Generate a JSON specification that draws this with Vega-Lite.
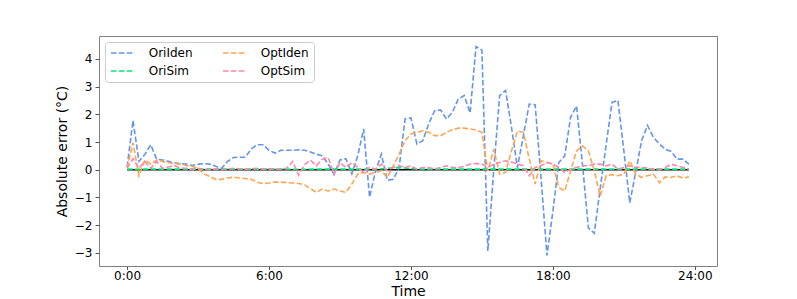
{
  "$schema": "https://vega.github.io/schema/vega-lite/v6.json",
  "width": 618,
  "height": 230,
  "autosize": "none",
  "padding": {"left": 99, "top": 36, "right": 80, "bottom": 33},
  "background": "white",
  "config": {
    "font": "DejaVu Sans",
    "view": {"stroke": "#808080", "strokeWidth": 1},
    "axis": {
      "grid": false,
      "domain": false,
      "tickColor": "#555",
      "tickSize": 4,
      "labelPadding": 3,
      "labelFontSize": 12,
      "labelColor": "#000",
      "titleFontSize": 14,
      "titleFontWeight": "normal",
      "titleColor": "#000"
    },
    "legend": {
      "labelFontSize": 12,
      "labelColor": "#000"
    }
  },
  "layer": [
    {
      "data": {"values": [{"x0": 0, "x1": 23.75, "y": 0}]},
      "mark": {"type": "rule", "color": "#000000", "strokeWidth": 1.6},
      "encoding": {
        "x": {"field": "x0", "type": "quantitative", "scale": {"domain": [-1.1875, 24.9375], "nice": false, "zero": false}, "axis": {"values": [0, 6, 12, 18, 24], "labelExpr": "datum.value + ':00'", "title": "Time", "titlePadding": 3, "labelPadding": 1, "tickSize": 3.5}},
        "x2": {"field": "x1"},
        "y": {"field": "y", "type": "quantitative", "scale": {"domain": [-3.48, 4.83], "nice": false, "zero": false}, "axis": {"values": [-3, -2, -1, 0, 1, 2, 3, 4], "title": "Absolute error (°C)", "titlePadding": 5}}
      }
    },
    {
      "data": {"values": [
        {"t": 0, "OriIden": 0.1, "OriSim": 0.02, "OptIden": 0.05, "OptSim": 0.05},
        {"t": 0.25, "OriIden": 1.78, "OriSim": 0.02, "OptIden": 0.98, "OptSim": 0.4},
        {"t": 0.5, "OriIden": 0.3, "OriSim": 0.01, "OptIden": -0.22, "OptSim": 0.05},
        {"t": 0.75, "OriIden": 0.55, "OriSim": 0.02, "OptIden": 0.35, "OptSim": 0.3},
        {"t": 1, "OriIden": 0.9, "OriSim": 0.02, "OptIden": 0.2, "OptSim": 0.05},
        {"t": 1.25, "OriIden": 0.38, "OriSim": 0.02, "OptIden": 0.35, "OptSim": 0.3},
        {"t": 1.5, "OriIden": 0.35, "OriSim": 0.02, "OptIden": 0.3, "OptSim": 0.05},
        {"t": 1.75, "OriIden": 0.3, "OriSim": 0.02, "OptIden": 0.25, "OptSim": 0.1},
        {"t": 2, "OriIden": 0.25, "OriSim": 0.02, "OptIden": 0.22, "OptSim": 0.15},
        {"t": 2.25, "OriIden": 0.22, "OriSim": 0.02, "OptIden": 0.2, "OptSim": 0.05},
        {"t": 2.5, "OriIden": 0.2, "OriSim": 0.02, "OptIden": 0.15, "OptSim": 0.05},
        {"t": 2.75, "OriIden": 0.15, "OriSim": 0.02, "OptIden": 0.12, "OptSim": 0.0},
        {"t": 3, "OriIden": 0.2, "OriSim": 0.02, "OptIden": 0.05, "OptSim": 0.05},
        {"t": 3.25, "OriIden": 0.22, "OriSim": 0.02, "OptIden": -0.15, "OptSim": 0.02},
        {"t": 3.5, "OriIden": 0.2, "OriSim": 0.02, "OptIden": -0.25, "OptSim": 0.0},
        {"t": 3.75, "OriIden": 0.12, "OriSim": 0.02, "OptIden": -0.35, "OptSim": 0.03},
        {"t": 4, "OriIden": 0.05, "OriSim": 0.02, "OptIden": -0.35, "OptSim": 0.0},
        {"t": 4.25, "OriIden": 0.3, "OriSim": 0.02, "OptIden": -0.3, "OptSim": 0.02},
        {"t": 4.5, "OriIden": 0.44, "OriSim": 0.02, "OptIden": -0.27, "OptSim": 0.05},
        {"t": 4.75, "OriIden": 0.45, "OriSim": 0.02, "OptIden": -0.3, "OptSim": 0.03},
        {"t": 5, "OriIden": 0.45, "OriSim": 0.02, "OptIden": -0.32, "OptSim": 0.02},
        {"t": 5.25, "OriIden": 0.75, "OriSim": 0.02, "OptIden": -0.35, "OptSim": 0.03},
        {"t": 5.5, "OriIden": 0.9, "OriSim": 0.02, "OptIden": -0.45, "OptSim": 0.05},
        {"t": 5.75, "OriIden": 0.9, "OriSim": 0.02, "OptIden": -0.5, "OptSim": 0.02},
        {"t": 6, "OriIden": 0.7, "OriSim": 0.02, "OptIden": -0.48, "OptSim": 0.03},
        {"t": 6.25, "OriIden": 0.6, "OriSim": 0.02, "OptIden": -0.45, "OptSim": 0.02},
        {"t": 6.5, "OriIden": 0.7, "OriSim": 0.02, "OptIden": -0.45, "OptSim": 0.03},
        {"t": 6.75, "OriIden": 0.7, "OriSim": 0.02, "OptIden": -0.47, "OptSim": 0.05},
        {"t": 7, "OriIden": 0.7, "OriSim": 0.01, "OptIden": -0.48, "OptSim": 0.3},
        {"t": 7.25, "OriIden": 0.72, "OriSim": 0.01, "OptIden": -0.5, "OptSim": -0.2},
        {"t": 7.5, "OriIden": 0.7, "OriSim": 0.01, "OptIden": -0.55, "OptSim": 0.18},
        {"t": 7.75, "OriIden": 0.64, "OriSim": 0.02, "OptIden": -0.68, "OptSim": 0.35},
        {"t": 8, "OriIden": 0.56, "OriSim": 0.02, "OptIden": -0.82, "OptSim": 0.14},
        {"t": 8.25, "OriIden": 0.5, "OriSim": 0.02, "OptIden": -0.7, "OptSim": 0.38},
        {"t": 8.5, "OriIden": 0.2, "OriSim": 0.02, "OptIden": -0.77, "OptSim": 0.44},
        {"t": 8.75, "OriIden": -0.17, "OriSim": 0.02, "OptIden": -0.7, "OptSim": -0.16},
        {"t": 9, "OriIden": 0.35, "OriSim": 0.02, "OptIden": -0.77, "OptSim": 0.26},
        {"t": 9.25, "OriIden": 0.4, "OriSim": 0.02, "OptIden": -0.82, "OptSim": 0.08},
        {"t": 9.5, "OriIden": -0.15, "OriSim": 0.02, "OptIden": -0.52, "OptSim": 0.26},
        {"t": 9.75, "OriIden": 0.5, "OriSim": 0.02, "OptIden": -0.16, "OptSim": 0.08},
        {"t": 10, "OriIden": 1.47, "OriSim": 0.02, "OptIden": -0.1, "OptSim": -0.1},
        {"t": 10.25, "OriIden": -1.0, "OriSim": 0.02, "OptIden": -0.16, "OptSim": 0.08},
        {"t": 10.5, "OriIden": -0.05, "OriSim": 0.02, "OptIden": -0.1, "OptSim": 0.02},
        {"t": 10.75, "OriIden": 0.56, "OriSim": 0.03, "OptIden": -0.04, "OptSim": 0.2},
        {"t": 11, "OriIden": -0.38, "OriSim": 0.05, "OptIden": -0.28, "OptSim": -0.04},
        {"t": 11.25, "OriIden": -0.35, "OriSim": 0.07, "OptIden": 0.14, "OptSim": 0.08},
        {"t": 11.5, "OriIden": 0.08, "OriSim": 0.08, "OptIden": 0.56, "OptSim": 0.14},
        {"t": 11.75, "OriIden": 1.83, "OriSim": 0.06, "OptIden": 1.05, "OptSim": 0.08},
        {"t": 12, "OriIden": 1.87, "OriSim": 0.04, "OptIden": 1.29, "OptSim": 0.14},
        {"t": 12.25, "OriIden": 0.93, "OriSim": 0.03, "OptIden": 1.35, "OptSim": 0.02},
        {"t": 12.5, "OriIden": 1.05, "OriSim": 0.02, "OptIden": 1.4, "OptSim": 0.08},
        {"t": 12.75, "OriIden": 1.65, "OriSim": 0.02, "OptIden": 1.35, "OptSim": 0.08},
        {"t": 13, "OriIden": 2.13, "OriSim": 0.02, "OptIden": 1.23, "OptSim": 0.03},
        {"t": 13.25, "OriIden": 2.16, "OriSim": 0.02, "OptIden": 1.23, "OptSim": 0.08},
        {"t": 13.5, "OriIden": 1.83, "OriSim": 0.02, "OptIden": 1.35, "OptSim": 0.14},
        {"t": 13.75, "OriIden": 2.07, "OriSim": 0.02, "OptIden": 1.44, "OptSim": 0.08},
        {"t": 14, "OriIden": 2.55, "OriSim": 0.02, "OptIden": 1.5, "OptSim": 0.08},
        {"t": 14.25, "OriIden": 2.68, "OriSim": 0.02, "OptIden": 1.5, "OptSim": 0.12},
        {"t": 14.5, "OriIden": 2.05, "OriSim": 0.02, "OptIden": 1.47, "OptSim": 0.2},
        {"t": 14.75, "OriIden": 4.45, "OriSim": 0.02, "OptIden": 1.43, "OptSim": 0.22},
        {"t": 15, "OriIden": 4.32, "OriSim": 0.02, "OptIden": 1.35, "OptSim": 0.2},
        {"t": 15.25, "OriIden": -2.94, "OriSim": 0.02, "OptIden": -0.05, "OptSim": 0.08},
        {"t": 15.5, "OriIden": 0.0, "OriSim": 0.02, "OptIden": 0.74, "OptSim": 0.2},
        {"t": 15.75, "OriIden": 2.68, "OriSim": 0.02, "OptIden": -0.16, "OptSim": 0.26},
        {"t": 16, "OriIden": 2.86, "OriSim": 0.02, "OptIden": -0.1, "OptSim": 0.32},
        {"t": 16.25, "OriIden": 1.53, "OriSim": 0.02, "OptIden": 0.68, "OptSim": 0.28},
        {"t": 16.5, "OriIden": 0.07, "OriSim": 0.02, "OptIden": 1.4, "OptSim": 0.2},
        {"t": 16.75, "OriIden": 1.22, "OriSim": 0.02, "OptIden": 1.35, "OptSim": 0.14},
        {"t": 17, "OriIden": 2.37, "OriSim": 0.02, "OptIden": 0.4, "OptSim": -0.22},
        {"t": 17.25, "OriIden": 2.35, "OriSim": 0.02, "OptIden": -0.52, "OptSim": 0.08},
        {"t": 17.5, "OriIden": -0.3, "OriSim": 0.02, "OptIden": 0.32, "OptSim": 0.14},
        {"t": 17.75, "OriIden": -3.1, "OriSim": 0.02, "OptIden": 0.26, "OptSim": 0.26},
        {"t": 18, "OriIden": -1.5, "OriSim": 0.02, "OptIden": 0.2, "OptSim": 0.2},
        {"t": 18.25, "OriIden": 0.26, "OriSim": 0.02, "OptIden": -0.64, "OptSim": 0.08},
        {"t": 18.5, "OriIden": 0.5, "OriSim": 0.02, "OptIden": -0.77, "OptSim": -0.1},
        {"t": 18.75, "OriIden": 1.9, "OriSim": 0.02, "OptIden": -0.04, "OptSim": 0.02},
        {"t": 19, "OriIden": 2.3, "OriSim": 0.02, "OptIden": 0.68, "OptSim": 0.08},
        {"t": 19.25, "OriIden": 0.2, "OriSim": 0.02, "OptIden": 0.86, "OptSim": 0.14},
        {"t": 19.5, "OriIden": -2.1, "OriSim": 0.02, "OptIden": 0.68, "OptSim": 0.14},
        {"t": 19.75, "OriIden": -2.3, "OriSim": 0.02, "OptIden": -0.04, "OptSim": 0.2},
        {"t": 20, "OriIden": -0.67, "OriSim": 0.02, "OptIden": -0.95, "OptSim": 0.2},
        {"t": 20.25, "OriIden": 0.89, "OriSim": 0.02, "OptIden": -0.22, "OptSim": 0.14},
        {"t": 20.5, "OriIden": 2.43, "OriSim": 0.02, "OptIden": -0.18, "OptSim": 0.2},
        {"t": 20.75, "OriIden": 2.5, "OriSim": 0.02, "OptIden": -0.22, "OptSim": 0.02},
        {"t": 21, "OriIden": 0.68, "OriSim": 0.02, "OptIden": -0.16, "OptSim": 0.08},
        {"t": 21.25, "OriIden": -1.2, "OriSim": 0.02, "OptIden": 0.32, "OptSim": 0.14},
        {"t": 21.5, "OriIden": -0.1, "OriSim": 0.02, "OptIden": -0.16, "OptSim": 0.08},
        {"t": 21.75, "OriIden": 1.05, "OriSim": 0.02, "OptIden": -0.28, "OptSim": 0.08},
        {"t": 22, "OriIden": 1.6, "OriSim": 0.02, "OptIden": -0.22, "OptSim": 0.06},
        {"t": 22.25, "OriIden": 1.17, "OriSim": 0.02, "OptIden": -0.16, "OptSim": 0.02},
        {"t": 22.5, "OriIden": 0.93, "OriSim": 0.02, "OptIden": -0.47, "OptSim": 0.0},
        {"t": 22.75, "OriIden": 0.74, "OriSim": 0.02, "OptIden": -0.26, "OptSim": 0.08},
        {"t": 23, "OriIden": 0.66, "OriSim": 0.02, "OptIden": -0.28, "OptSim": 0.2},
        {"t": 23.25, "OriIden": 0.38, "OriSim": 0.02, "OptIden": -0.22, "OptSim": 0.14},
        {"t": 23.5, "OriIden": 0.38, "OriSim": 0.02, "OptIden": -0.31, "OptSim": 0.08},
        {"t": 23.75, "OriIden": 0.2, "OriSim": 0.02, "OptIden": -0.26, "OptSim": 0.02}
      ]},
      "transform": [{"fold": ["OriIden", "OriSim", "OptIden", "OptSim"], "as": ["series", "value"]}],
      "mark": {"type": "line", "strokeDash": [5.5, 2.4], "strokeWidth": 1.6},
      "encoding": {
        "x": {"field": "t", "type": "quantitative", "scale": {"domain": [-1.1875, 24.9375], "nice": false, "zero": false}, "axis": {"values": [0, 6, 12, 18, 24], "labelExpr": "datum.value + ':00'", "title": "Time", "titlePadding": 3, "labelPadding": 1, "tickSize": 3.5}},
        "y": {"field": "value", "type": "quantitative", "scale": {"domain": [-3.48, 4.83], "nice": false, "zero": false}, "axis": {"values": [-3, -2, -1, 0, 1, 2, 3, 4], "title": "Absolute error (°C)", "titlePadding": 5}},
        "color": {
          "field": "series",
          "type": "nominal",
          "scale": {"domain": ["OriIden", "OriSim", "OptIden", "OptSim"], "range": ["#6495ED", "#00E676", "#FFA552", "#FF85AB"]},
          "legend": {
            "title": null,
            "orient": "top-left",
            "offset": 6,
            "columns": 2,
            "columnPadding": 26,
            "rowPadding": 6,
            "padding": 5,
            "symbolType": "M-1,0L3.8,0",
            "symbolSize": 100,
            "symbolStrokeWidth": 1.6,
            "symbolDash": [5.5, 2.4],
            "labelOffset": 26.7,
            "fillColor": "white",
            "strokeColor": "#cccccc",
            "cornerRadius": 3
          }
        }
      }
    }
  ]
}
